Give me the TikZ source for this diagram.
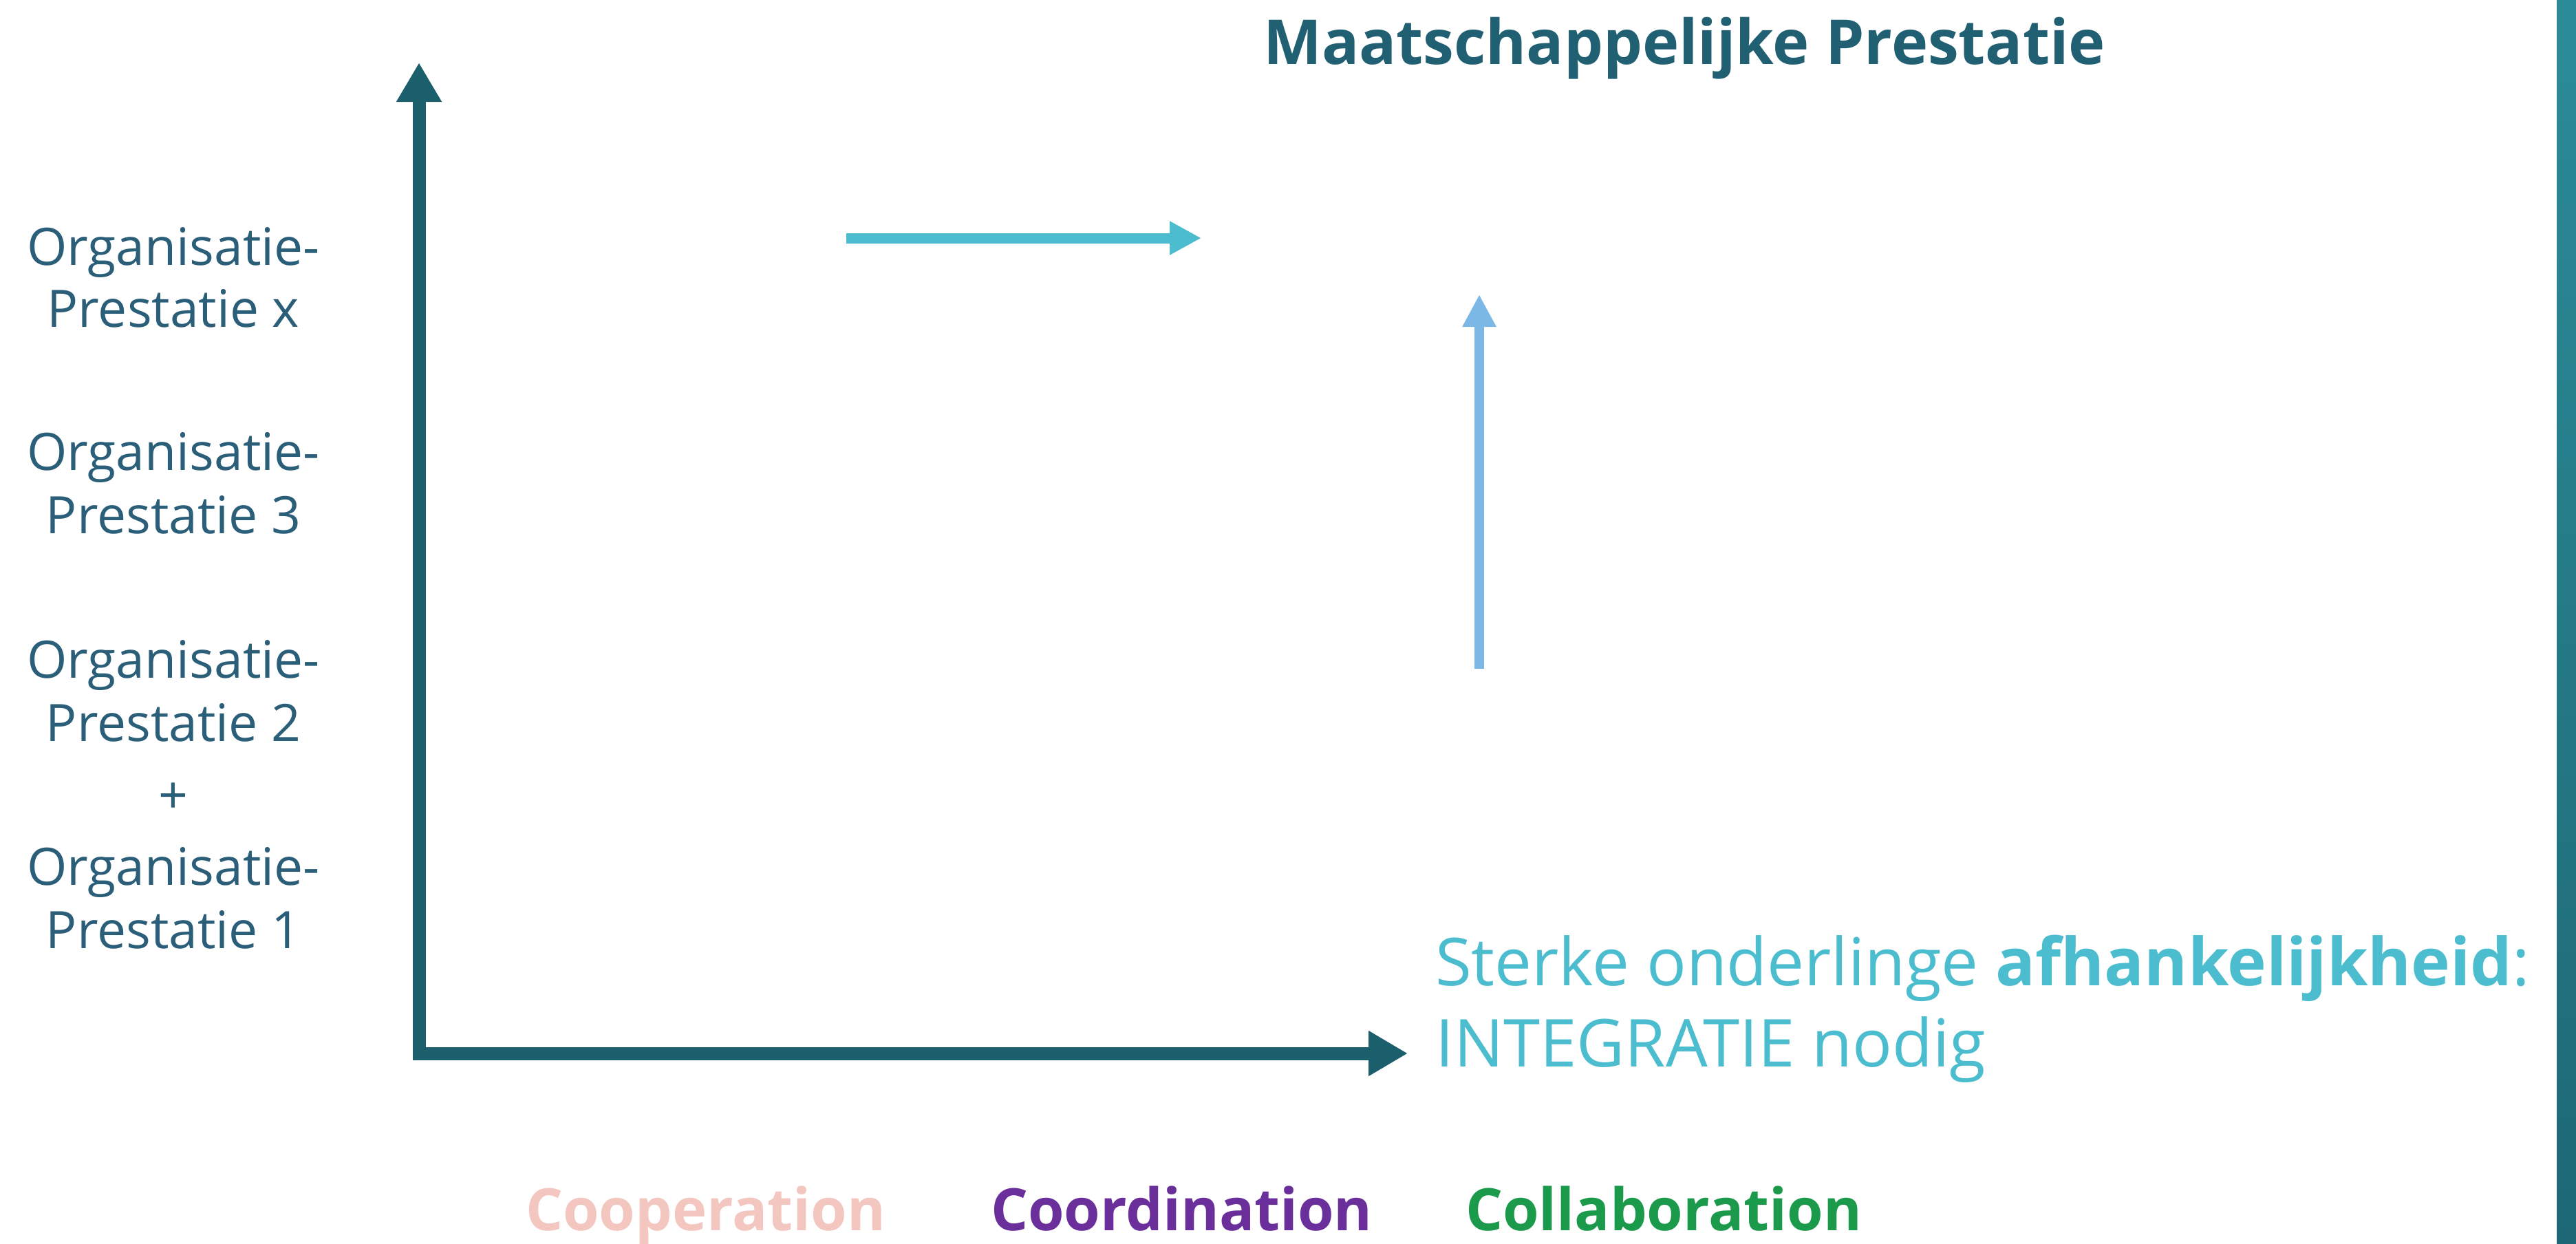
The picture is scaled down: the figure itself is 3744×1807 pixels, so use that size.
\documentclass[tikz,border=0pt]{standalone}
\usepackage{fontspec}
\setmainfont{Open Sans}
\usetikzlibrary{arrows.meta}
\definecolor{axiscol}{HTML}{1B5E6C}
\definecolor{titlecol}{HTML}{215F73}
\definecolor{labcol}{HTML}{2B5E78}
\definecolor{cyancol}{HTML}{4BBDCF}
\definecolor{bluecol}{HTML}{7CB8E6}
\definecolor{coopcol}{HTML}{F3C6C0}
\definecolor{coordcol}{HTML}{6B2F9B}
\definecolor{collcol}{HTML}{1C9A4C}
\definecolor{stripTop}{HTML}{2B8C98}
\definecolor{stripBot}{HTML}{1E6876}
\begin{document}
\begin{tikzpicture}[x=1pt,y=-1pt,
  lab/.style={anchor=base, inner sep=0pt, text=labcol, font=\fontsize{75}{91}\selectfont},
  bottomlab/.style={anchor=base west, inner sep=0pt, font=\fontsize{85}{100}\selectfont\bfseries},
  righttext/.style={anchor=base west, inner sep=0pt, text=cyancol, font=\fontsize{96}{115}\selectfont},
  axisline/.style={draw=axiscol, line width=19pt, line join=miter},
  cyanarrow/.style={draw=cyancol, line width=15pt, -{Triangle[length=46pt,width=46pt]}},
  bluearrow/.style={draw=bluecol, line width=14pt, -{Triangle[length=47pt,width=46pt]}}
]
\useasboundingbox (0,0) rectangle (3744,1807);
\fill[white] (0,0) rectangle (3744,1807);
\shade[top color=stripTop, bottom color=stripBot] (3716,0) rectangle (3744,1807);

% axes
\coordinate (ytip) at (609,91);
\coordinate (orig) at (609,1531);
\coordinate (xtip) at (2046,1531);
\draw[axisline, {Triangle[length=57pt,width=62pt]}-{Triangle[length=57pt,width=62pt]}] (ytip) -- (orig) -- (xtip);

% arrows
\coordinate (ca) at (1230,346);
\coordinate (cb) at (1746,346);
\draw[cyanarrow] (ca) -- (cb);
\coordinate (ba) at (2150,972);
\coordinate (bb) at (2150,428);
\draw[bluearrow] (ba) -- (bb);

% title
\node[anchor=base west, inner sep=0pt, text=titlecol, font=\fontsize{90}{105}\selectfont\bfseries] (title) at (1836,93) {Maatschappelijke Prestatie};

% left labels
\node[lab] (l1a) at (252,385) {Organisatie-};
\node[lab] (l1b) at (252,475) {Prestatie x};
\node[lab] (l2a) at (252,683) {Organisatie-};
\node[lab] (l2b) at (252,775) {Prestatie 3};
\node[lab] (l3a) at (252,985) {Organisatie-};
\node[lab] (l3b) at (252,1077) {Prestatie 2};
\node[lab] (plus) at (252,1182) {+};
\node[lab] (l4a) at (252,1286) {Organisatie-};
\node[lab] (l4b) at (252,1378) {Prestatie 1};

% right text
\node[righttext] (dep1) at (2086,1432) {Sterke onderlinge \textbf{afhankelijkheid}:};
\node[righttext] (dep2) at (2086,1550) {INTEGRATIE nodig};

% bottom labels
\node[bottomlab, text=coopcol] (coop) at (764,1788) {Cooperation};
\node[bottomlab, text=coordcol] (coord) at (1440,1788) {Coordination};
\node[bottomlab, text=collcol] (coll) at (2130,1788) {Collaboration};
\end{tikzpicture}
\end{document}
